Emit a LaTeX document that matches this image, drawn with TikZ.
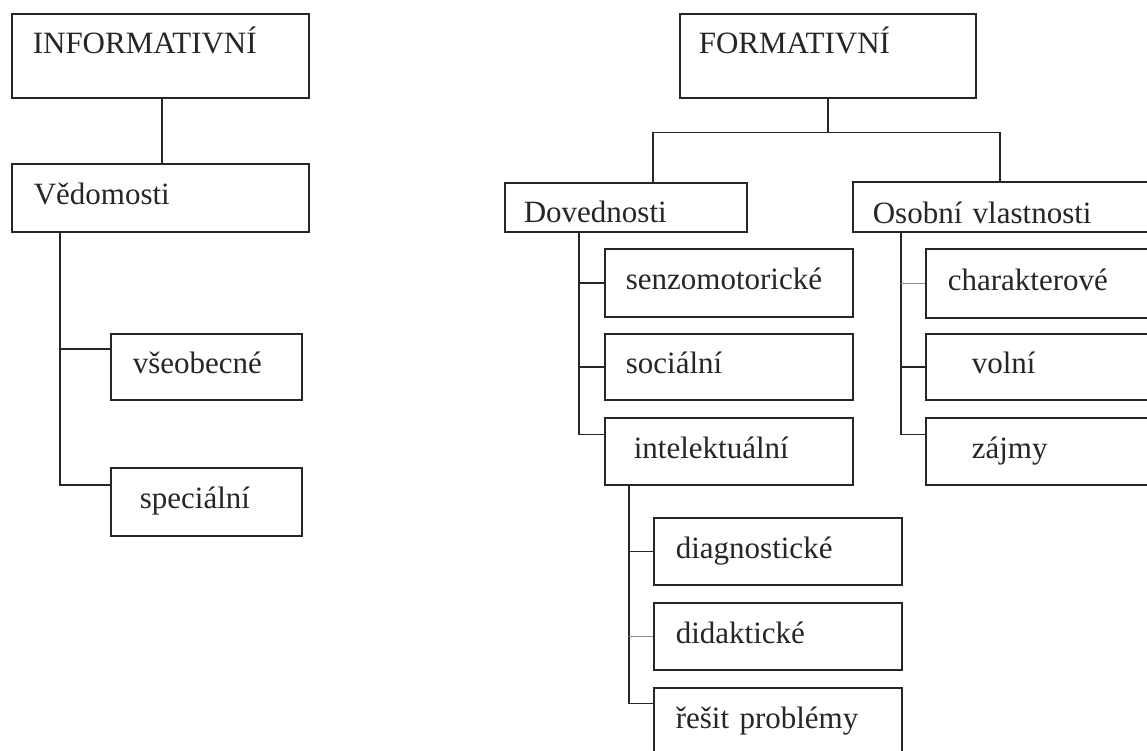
\documentclass[tikz,border=0pt]{standalone}
\usepackage{fontspec}
\setmainfont{Liberation Serif}
\begin{document}
\begin{tikzpicture}[x=1pt,y=-1pt,
  box/.style={draw=black!85, line width=1.6pt, anchor=north west, align=left,
    text height=22pt, text depth=8pt, inner ysep=0pt, text=black!85,
    font=\fontsize{31pt}{37pt}\selectfont},
  conn/.style={draw=black!85, line width=1.6pt},
  lightconn/.style={draw=black!45, line width=1.6pt}]
\useasboundingbox (0,0) rectangle (1147,751);
\fill[white] (0,0) rectangle (1147,751);
\clip (0,0) rectangle (1147,751);

% left tree
\node[box, minimum width=297pt, minimum height=84pt, inner xsep=21pt, text width=255pt] (info) at (11,13) {\raisebox{9pt}{INFORMATIVNÍ}};
\node[box, minimum width=297pt, minimum height=68pt, inner xsep=22pt, text width=253pt] (ved) at (11,163) {Vědomosti};
\node[box, minimum width=191pt, minimum height=66pt, inner xsep=22pt, text width=147pt] (vse) at (110,333) {všeobecné};
\node[box, minimum width=191pt, minimum height=68pt, inner xsep=29pt, text width=133pt] (spec) at (110,467) {speciální};

% right tree
\node[box, minimum width=296pt, minimum height=84pt, inner xsep=19pt, text width=258pt] (form) at (679,13) {\raisebox{9pt}{FORMATIVNÍ}};
\node[box, minimum width=242pt, minimum height=49pt, inner xsep=19pt, text width=204pt] (dov) at (504,182) {\raisebox{-8.5pt}{Dovednosti}};
\node[box, minimum width=300pt, minimum height=50pt, inner xsep=20pt, text width=260pt] (oso) at (852,181) {\raisebox{-10pt}{Osobní vlastnosti}};

\node[box, minimum width=248pt, minimum height=68pt, inner xsep=21pt, text width=206pt] (senzo) at (604,248) {senzomotorické};
\node[box, minimum width=248pt, minimum height=66pt, inner xsep=21pt, text width=206pt] (soc) at (604,333) {sociální};
\node[box, minimum width=248pt, minimum height=67pt, inner xsep=29pt, text width=190pt] (intel) at (604,417) {intelektuální};

\node[box, minimum width=227pt, minimum height=69pt, inner xsep=22pt, text width=183pt] (char) at (925,248) {charakterové};
\node[box, minimum width=227pt, minimum height=66pt, inner xsep=46pt, text width=135pt] (vol) at (925,333) {volní};
\node[box, minimum width=227pt, minimum height=67pt, inner xsep=46pt, text width=135pt] (zaj) at (925,417) {zájmy};

\node[box, minimum width=248pt, minimum height=67pt, inner xsep=22pt, text width=204pt] (diag) at (653,517) {diagnostické};
\node[box, minimum width=248pt, minimum height=67pt, inner xsep=22pt, text width=204pt] (did) at (653,602) {didaktické};
\node[box, minimum width=248pt, minimum height=67pt, inner xsep=22pt, text width=204pt] (res) at (653,687) {řešit problémy};

% connectors left
\draw[conn] ([xshift=1.5pt]info.south) -- ([xshift=1.5pt]info.south |- ved.north);
\coordinate (vtrunk) at ([xshift=49pt]ved.south west);
\draw[conn] (vtrunk) |- ([yshift=17pt]spec.west);
\draw[conn] ([yshift=18pt]vse.west) -- +(-50pt,0);

% connectors right
\coordinate (fbar) at ([yshift=-34pt]form.south);
\draw[conn] (form.south) -- (fbar);
\draw[conn] ([xshift=149pt]dov.north west) |- (fbar);
\draw[conn] ([xshift=-3pt]oso.north) |- (fbar);

\coordinate (dtrunk) at ([xshift=75pt]dov.south west);
\draw[conn] (dtrunk) |- ([yshift=17pt]intel.west);
\draw[conn] (senzo.west) -- +(-25pt,0);
\draw[conn] (soc.west) -- +(-25pt,0);

\coordinate (otrunk) at ([xshift=49pt]oso.south west);
\draw[conn] (otrunk) |- ([yshift=17pt]zaj.west);
\draw[lightconn] (char.west) -- +(-24pt,0);
\draw[conn] (vol.west) -- +(-24pt,0);

\coordinate (itrunk) at ([xshift=25pt]intel.south west);
\draw[conn] (itrunk) |- ([yshift=18pt]res.west);
\draw[conn] (diag.west) -- +(-24pt,0);
\draw[lightconn] (did.west) -- +(-24pt,0);
\end{tikzpicture}
\end{document}
